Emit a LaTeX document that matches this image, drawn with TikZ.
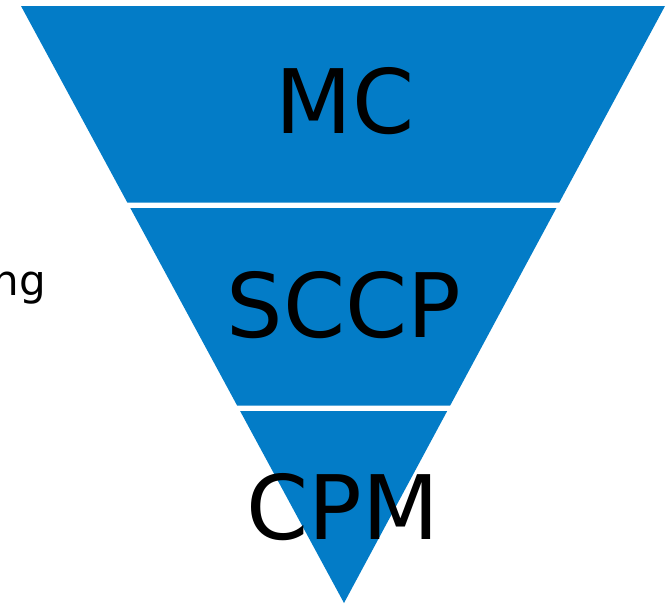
\documentclass[tikz,border=0pt]{standalone}
\usepackage{fontspec}
\setmainfont{DejaVu Sans}
\usepackage{tikz}
\definecolor{funnelblue}{RGB}{3,124,199}
\tikzset{
  band/.style={fill=funnelblue},
  bandlabel/.style={anchor=base,inner sep=0pt,font=\fontsize{89}{89}\selectfont}
}

\begin{document}
\begin{tikzpicture}[x=1pt,y=-1pt]
\useasboundingbox (0,0) rectangle (666,603);
%bands
\fill[band](21,6)--(665,6)--(559.3,202.5)--(127.3,202.5)--cycle;
\fill[band](130.3,208)--(556.4,208)--(450.2,405.5)--(237.1,405.5)--cycle;
\fill[band](240.1,411)--(447.2,411)--(344,603)--cycle;
%labels
\node[bandlabel] (mc) at (345,133){MC};
\node[bandlabel] (sccp) at (344,337){SCCP};
\node[bandlabel] (cpm) at (343,539){CPM};
\node[anchor=base east,inner sep=0pt,font=\fontsize{42}{42}\selectfont] (ng) at (46,295){ng};
\end{tikzpicture}
\end{document}
